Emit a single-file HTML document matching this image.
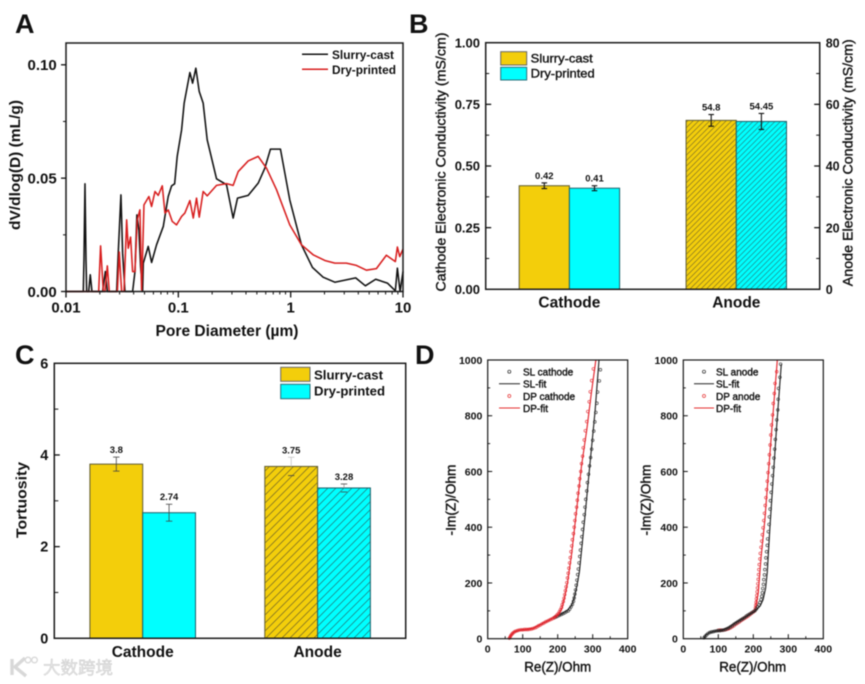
<!DOCTYPE html>
<html lang="en">
<head>
<meta charset="utf-8">
<title>Battery electrode comparison charts</title>
<style>
html,body{margin:0;padding:0;background:#fff;}
#figure{display:block;width:865px;height:684px;filter:blur(0.45px);font-family:"Liberation Sans","Noto Sans CJK SC",sans-serif;}
text{fill:#111;}
.b{font-weight:700;}
.med{stroke:#111;stroke-width:.38px;}
</style>
</head>
<body>
<svg id="figure" xmlns="http://www.w3.org/2000/svg" width="865" height="684" viewBox="0 0 865 684">
<defs>
<pattern id="hatchB" patternUnits="userSpaceOnUse" width="5.5" height="5.5" patternTransform="rotate(0)"><path d="M-1,1 L1,-1 M0,5.5 L5.5,0 M4.5,6.5 L6.5,4.5" stroke="#333" stroke-opacity=".6" stroke-width=".7"/></pattern>
<pattern id="hatchC" patternUnits="userSpaceOnUse" width="8" height="8"><path d="M-1,1 L1,-1 M0,8 L8,0 M7,9 L9,7" stroke="#333" stroke-opacity=".7" stroke-width=".7"/></pattern>
</defs>

<g id="panelA">
<text class="b" x="15" y="33" font-size="27">A</text>
<text class="b" x="227" y="336" font-size="15.5" text-anchor="middle" textLength="143" lengthAdjust="spacingAndGlyphs">Pore Diameter (µm)</text>
<text class="b" transform="translate(20,165) rotate(-90)" font-size="15" text-anchor="middle" textLength="130" lengthAdjust="spacingAndGlyphs">dV/dlog(D) (mL/g)</text>
<line x1="302" x2="328" y1="54.3" y2="54.3" stroke="#111" stroke-width="1.5"/>
<text class="b" x="332" y="59" font-size="11.5" textLength="62" lengthAdjust="spacingAndGlyphs">Slurry-cast</text>
<line x1="302" x2="328" y1="69.3" y2="69.3" stroke="#d81e1e" stroke-width="1.5"/>
<text class="b" x="332" y="74" font-size="11.5" textLength="64" lengthAdjust="spacingAndGlyphs">Dry-printed</text>
</g>

<g id="panelB">
<text class="b" x="409" y="33" font-size="27">B</text>
<text class="med" transform="translate(445.5,162) rotate(-90)" font-size="14" text-anchor="middle" textLength="259" lengthAdjust="spacingAndGlyphs">Cathode Electronic Conductivity (mS/cm)</text>
<text class="med" transform="translate(852.5,162.7) rotate(-90)" font-size="14" text-anchor="middle" textLength="247" lengthAdjust="spacingAndGlyphs">Anode Electronic Conductivity (mS/cm)</text>
<rect x="500.7" y="51.7" width="26" height="13.3" fill="#f3ce0b" stroke="#666" stroke-width="1"/>
<text class="med" x="530.7" y="62.7" font-size="12" textLength="62" lengthAdjust="spacingAndGlyphs">Slurry-cast</text>
<rect x="500.7" y="67.3" width="26" height="12.7" fill="#00ffff" stroke="#2a6f7a" stroke-width="1"/>
<text class="med" x="530.7" y="77.7" font-size="12" textLength="64" lengthAdjust="spacingAndGlyphs">Dry-printed</text>
</g>

<g id="panelC">
<text class="b" x="15" y="364" font-size="27">C</text>
<text class="b" transform="translate(26.5,500) rotate(-90)" font-size="15" text-anchor="middle" textLength="76" lengthAdjust="spacingAndGlyphs">Tortuosity</text>
<rect x="280.7" y="367.3" width="29.3" height="14" fill="#f3ce0b" stroke="#666" stroke-width="1"/>
<text class="b" x="314" y="379.3" font-size="13" textLength="69" lengthAdjust="spacingAndGlyphs">Slurry-cast</text>
<rect x="280.7" y="384.3" width="29.3" height="14.4" fill="#00ffff" stroke="#2a6f7a" stroke-width="1"/>
<text class="b" x="314" y="395.7" font-size="13" textLength="71" lengthAdjust="spacingAndGlyphs">Dry-printed</text>
</g>

<g id="panelD1">
<text class="b" x="415" y="364" font-size="27">D</text>
<text class="med" x="557.7" y="671.5" font-size="13.5" text-anchor="middle" textLength="67" lengthAdjust="spacingAndGlyphs">Re(Z)/Ohm</text>
<text class="med" transform="translate(455.7,500) rotate(-90)" font-size="13.5" text-anchor="middle" textLength="71" lengthAdjust="spacingAndGlyphs">-Im(Z)/Ohm</text>
</g>

<g id="panelD2">
<text class="med" x="752.7" y="671.5" font-size="13.5" text-anchor="middle" textLength="67" lengthAdjust="spacingAndGlyphs">Re(Z)/Ohm</text>
<text class="med" transform="translate(650.7,500) rotate(-90)" font-size="13.5" text-anchor="middle" textLength="71" lengthAdjust="spacingAndGlyphs">-Im(Z)/Ohm</text>
</g>

<g opacity=".9">
<path d="M12,659 V675 M25,658 L15,667 L26,676" fill="none" stroke="#d4d4d4" stroke-width="3.4"/>
<circle cx="28" cy="660" r="2.8" fill="none" stroke="#d4d4d4" stroke-width="1.3"/>
<circle cx="34.5" cy="660" r="2.8" fill="none" stroke="#d4d4d4" stroke-width="1.3"/>
<text x="43" y="674" font-size="17.5" textLength="70" lengthAdjust="spacingAndGlyphs" style="fill:#e2e2e2;stroke:#c4c4c4;stroke-width:.4px;">大数跨境</text>
</g>
</svg>

<script>
/* ---------- Panel A data (log10 of pore diameter in µm, dV/dlog(D) in mL/g) ---------- */
const slurryLogDiameter = [-2,-1.846,-1.84,-1.831,-1.822,-1.816,-1.798,-1.784,-1.769,-1.674,-1.65,-1.632,-1.549,-1.535,-1.511,-1.496,-1.475,-1.407,-1.386,-1.369,-1.351,-1.336,-1.318,-1.312,-1.268,-1.238,-1.194,-1.134,-1.105,-1.09,-1.06,-1.033,-1.01,-.971,-.948,-.897,-.873,-.844,-.814,-.779,-.743,-.66,-.571,-.512,-.473,-.378,-.289,-.23,-.18,-.091,-.008,.096,.194,.289,.393,.579,.665,.757,.861,.932,.95,.974,1];
const slurryPoreVolume = [0,0,.014,.0475,.014,0,0,.0074,0,0,.0088,0,0,.0169,.0426,.0169,0,0,.0088,.0338,.0272,.011,0,.0125,.0199,.0128,.0206,.0287,.0375,.0419,.0466,.0475,.0596,.0713,.0831,.0966,.0919,.0985,.0882,.0831,.0669,.0497,.0471,.0324,.0412,.0424,.0478,.0544,.0628,.0628,.0404,.0206,.0106,.0063,.0041,.006,.0025,.0054,.0037,.0003,.0103,0,.0088];
const dryLogDiameter = [-2,-1.709,-1.692,-1.668,-1.653,-1.632,-1.615,-1.543,-1.526,-1.505,-1.484,-1.46,-1.446,-1.425,-1.407,-1.386,-1.366,-1.342,-1.327,-1.306,-1.262,-1.238,-1.208,-1.179,-1.143,-1.119,-1.09,-1.054,-1.016,-.971,-.942,-.897,-.867,-.838,-.814,-.779,-.743,-.66,-.571,-.512,-.467,-.378,-.289,-.215,-.126,-.008,.096,.2,.304,.393,.496,.585,.674,.763,.852,.932,.95,.971,1];
const dryPoreVolume = [0,0,.0201,0,0,.0113,0,0,.0174,0,0,.0316,.0191,.024,.0088,.0088,.0316,.036,.0007,.0382,.0419,.0375,.0441,.0424,.0466,.0346,.036,.0309,.0294,.0331,.0346,.0401,.0324,.0412,.0328,.0441,.0422,.0468,.0476,.0468,.0529,.0576,.0596,.0544,.0449,.0294,.0206,.0162,.0137,.0125,.0125,.0115,.0094,.0101,.016,.0132,.0196,.0154,.0187];
const aXTicks = [0.01,0.1,1,10];
const aXTickLabels = ['0.01','0.1','1','10'];
const aYTicks = [0,0.05,0.1];
const aYTickLabels = ['0.00','0.05','0.10'];
const aYMinorTicks = [0.025,0.075];
const aDecadeMultiples = [2,3,4,5,6,7,8,9];

/* ---------- Panel B data ---------- */
const bCategories = ['Cathode','Anode'];
const bSlurryValues = [0.42,54.8];
const bDryValues = [0.41,54.45];
const bSlurryErrors = [0.0115,1.9];
const bDryErrors = [0.01,2.6];
const bSlurryLabels = ['0.42','54.8'];
const bDryLabels = ['0.41','54.45'];
const bLeftTicks = [0,0.25,0.5,0.75,1];
const bLeftTickLabels = ['0.00','0.25','0.50','0.75','1.00'];
const bLeftMinorTicks = [0.125,0.375,0.625,0.875];
const bRightTicks = [0,20,40,60,80];
const bRightTickLabels = ['0','20','40','60','80'];
const bRightMinorTicks = [10,30,50,70];

/* ---------- Panel C data ---------- */
const cCategories = ['Cathode','Anode'];
const cSlurryValues = [3.8,3.75];
const cDryValues = [2.74,3.28];
const cSlurryErrors = [0.153,0.2];
const cDryErrors = [0.185,0.087];
const cSlurryLabels = ['3.8','3.75'];
const cDryLabels = ['2.74','3.28'];
const cYTicks = [0,2,4,6];
const cYMinorTicks = [1,3,5];

/* ---------- Panel D data (Re(Z), -Im(Z) in Ohm) ---------- */
const dXTicks = [0,100,200,300,400];
const dXMinorTicks = [50,150,250,350];
const dYTicks = [0,200,400,600,800,1000];
const dYMinorTicks = [100,300,500,700,900];

const slCathodeFitRe = [62,66,75,90,110,130,150,170,190,210,228,240,248,255,262,270,278,287,297,307,318];
const slCathodeFitIm = [0,12,24,31,33,37,50,63,76,88,102,120,150,190,240,340,440,560,690,820,1000];
const dpCathodeFitRe = [62,66,75,90,110,130,150,170,190,202,212,220,228,240,254,268,283,296,309];
const dpCathodeFitIm = [0,12,24,31,33,37,50,63,76,88,110,150,200,306,462,620,749,880,1000];
const slCathodePointsRe = [322,319,314,312,309,306,303,300,297,294,291,288,285,283,280,278,276,273,271,269,267,265,263,261,259,257,255,253,251,249,247,245,242,238,234,230,225,220,215,210,205,200,195,190];
const slCathodePointsIm = [965,925,885,845,812,778,745,712,680,650,620,590,560,530,500,472,445,418,392,366,342,318,295,272,250,230,210,192,175,160,146,134,123,114,106,100,97,93,90,87,84,81,78,75];
const dpCathodePointsRe = [302,297,293,290,286,283,279,276,273,271,268,266,263,261,258,256,254,251,249,247,245,242,240,238,236,234,232,230,228,226,224,222,220,218,216,213,211,208,205,202,198,194,190,185,180,175,170,165,160,155,150,145,140,135,130,125,120,115,110,105,100,95,90,85,80,76,72,69,66,64,62];
const dpCathodePointsIm = [968,926,886,850,815,779,746,713,685,655,628,600,574,548,522,497,472,448,424,400,377,355,333,312,291,272,253,235,218,201,186,172,158,145,133,122,112,104,97,90,85,80,76,72,69,66,63,60,56,53,49,46,42,39,37,35,34,33,33,33,32,32,31,29,27,24,20,16,11,6,2];

const slAnodeFitRe = [58,65,75,90,110,130,150,170,190,205,220,228,235,240,247,266,280];
const slAnodeFitIm = [0,14,22,27,30,40,58,72,88,100,118,140,180,240,390,749,985];
const dpAnodeFitRe = [90,110,130,150,170,190,205,209,214,222,233,252,268.6];
const dpAnodeFitIm = [27,30,40,58,72,88,100,130,163,290,426,737,1000];
const slAnodePointsRe = [278,276,272,271,270,267,265,263,261,259,257,255,253,251,249,248,246,245,243,241,240,238,236,235,233,232,230,229,227,226,224,222,219,216,213,209,205,200,195,190,185,180,175,170,165,160,155,150,145,140,135,130,125,120,115,110,105,100,95,90,85,80,75,70,66,62,59];
const slAnodePointsIm = [985,938,898,859,821,785,750,715,680,648,615,585,555,525,495,465,437,410,384,358,335,312,290,268,248,229,212,195,180,165,152,140,130,121,114,107,101,97,93,89,85,81,76,72,68,64,60,56,52,47,43,39,36,33,31,30,29,29,28,27,25,24,22,18,13,8,3];
const dpAnodePointsRe = [267,262,260,257,255,252,250,248,246,244,242,240,238,236,234,232,230,228,226,224,222,220,219,217,216,215,214,213,212,211,210,209,208,207,206,204,200,195,190,185,180,175,170,165,160,155,150,145,140,135,130,125,120,115,110,105,100];
const dpAnodePointsIm = [958,916,880,844,803,767,731,695,660,628,596,565,535,506,478,450,424,398,373,350,328,306,286,266,248,230,213,197,182,168,155,143,131,120,110,100,96,91,86,81,77,73,69,65,60,56,52,47,43,39,36,34,32,31,31,31,30];

/* ---------- helpers ---------- */
const NS = 'http://www.w3.org/2000/svg';
function mk(tag, parent, props, content) {
  const node = document.createElementNS(NS, tag);
  for (const key in props) node.setAttribute(key, props[key]);
  if (content !== undefined) node.textContent = content;
  parent.appendChild(node);
  return node;
}
function polyline(xs, ys, fx, fy) {
  return xs.map((v, i) => (i ? 'L' : 'M') + fx(v).toFixed(2) + ',' + fy(ys[i]).toFixed(2)).join(' ');
}
function slug(s) { return String(s).toLowerCase().replace(/[^a-z0-9]+/g, '-'); }

/* small mark makers: each names the node on its own lines */
function tick(parent, name, x1, y1, x2, y2, width) {
  const el = mk('line', parent, {x1, y1, x2, y2, stroke:'#111', 'stroke-width':width});
  
  
  return el;
}
function label(parent, name, x, y, text, size, anchor, cls) {
  const el = mk('text', parent, {x, y, 'font-size':size, 'text-anchor':anchor, class:cls || 'b'}, text);
  
  
  return el;
}
function frame(parent, name, x, y, w, h, width) {
  const el = mk('rect', parent, {x, y, width:w, height:h, fill:'none', stroke:'#1a1a1a', 'stroke-width':width});
  
  
  return el;
}

/* ---------- Panel A ---------- */
(function () {
  const g = document.getElementById('panelA');
  const L = 66, R = 403, T = 43, B = 291.5;
  const xA = logD => L + (logD + 2) * (R - L) / 3;
  const yA = v => B - v * 2267;
  const black = mk('path', g, {d:polyline(slurryLogDiameter, slurryPoreVolume, xA, yA), fill:'none', stroke:'#111', 'stroke-width':1.55, 'stroke-linejoin':'round'});
  
  
  const red = mk('path', g, {d:polyline(dryLogDiameter, dryPoreVolume, xA, yA), fill:'none', stroke:'#d81e1e', 'stroke-width':1.55, 'stroke-linejoin':'round'});
  
  
  frame(g, 'a-plot-frame', L, T, R - L, B - T, 1.5);
  aXTicks.forEach((d, i) => {
    const x = xA(Math.log10(d));
    tick(g, 'a-x-tick', x, B, x, B + 6, 1.3);
    label(g, 'a-x-tick-label', x, 312.5, aXTickLabels[i], 15, 'middle');
    if (i < aXTicks.length - 1) aDecadeMultiples.forEach(m => {
      const mx = xA(Math.log10(d * m));
      tick(g, 'a-x-minor-tick', mx, B, mx, B + 3, 1);
    });
  });
  aYTicks.forEach((v, i) => {
    tick(g, 'a-y-tick', L - 5, yA(v), L, yA(v), 1.3);
    label(g, 'a-y-tick-label', 56.7, yA(v) + 5.3, aYTickLabels[i], 15, 'end');
  });
  aYMinorTicks.forEach(v => tick(g, 'a-y-minor-tick', L - 3, yA(v), L, yA(v), 1));
})();

/* ---------- shared bars ---------- */
function drawBar(g, name, x, w, yTop, yBase, fill, stroke) {
  const el = mk('rect', g, {x, y:yTop, width:w, height:yBase - yTop, fill, stroke, 'stroke-width':1});
  
  
  return el;
}
function drawHatch(g, name, x, w, yTop, yBase, pattern) {
  const el = mk('rect', g, {x, y:yTop, width:w, height:yBase - yTop, fill:'url(#' + pattern + ')', stroke:'none'});
  
  
  return el;
}
function drawError(g, name, cx, yHi, yLo, cap, width, upperColor, lowerColor, stemColor, yMid) {
  const up = mk('line', g, {x1:cx, x2:cx, y1:yHi, y2:yMid, stroke:stemColor, 'stroke-width':width});
  
  
  if (lowerColor === stemColor || stemColor === '#111' || stemColor === '#444') {
    const low = mk('line', g, {x1:cx, x2:cx, y1:yMid, y2:yLo, stroke:stemColor, 'stroke-width':width});
    
    
  }
  const top = mk('line', g, {x1:cx - cap, x2:cx + cap, y1:yHi, y2:yHi, stroke:upperColor, 'stroke-width':width});
  
  
  const bottom = mk('line', g, {x1:cx - cap, x2:cx + cap, y1:yLo, y2:yLo, stroke:lowerColor, 'stroke-width':width});
  
  
}

/* ---------- Panel B ---------- */
(function () {
  const g = document.getElementById('panelB');
  const L = 485.7, R = 819.7, T = 42.7, B = 289.3, H = B - T;
  const yLeft = v => B - v * H;
  const yRight = v => B - v * H / 80;
  const center = i => 569.4 + 166.9 * i;
  const W = 50.2;
  bCategories.forEach((cat, i) => {
    const y = i === 0 ? yLeft : yRight;
    const key = slug(cat);
    const c = center(i);
    drawBar(g, 'bar-' + key + '-slurry-cast', c - W, W, y(bSlurryValues[i]), B, '#f3ce0b', '#5e5a30');
    drawBar(g, 'bar-' + key + '-dry-printed', c, W, y(bDryValues[i]), B, '#00ffff', '#1d5f6a');
    if (i === 1) {
      drawHatch(g, 'hatch-' + key + '-slurry-cast', c - W + .5, W - 1, y(bSlurryValues[i]) + .5, B - .5, 'hatchB');
      drawHatch(g, 'hatch-' + key + '-dry-printed', c + .5, W - 1, y(bDryValues[i]) + .5, B - .5, 'hatchB');
    }
    const cs = c - W / 2, cd = c + W / 2;
    drawError(g, 'error-' + key + '-slurry-cast', cs, y(bSlurryValues[i] + bSlurryErrors[i]), y(bSlurryValues[i] - bSlurryErrors[i]), 2.8, 1.1, '#111', '#111', '#111', y(bSlurryValues[i]));
    drawError(g, 'error-' + key + '-dry-printed', cd, y(bDryValues[i] + bDryErrors[i]), y(bDryValues[i] - bDryErrors[i]), 2.8, 1.1, '#111', '#111', '#111', y(bDryValues[i]));
    label(g, 'value-' + key + '-slurry-cast', cs, y(bSlurryValues[i] + bSlurryErrors[i]) - 4, bSlurryLabels[i], 9.5, 'middle');
    label(g, 'value-' + key + '-dry-printed', cd, y(bDryValues[i] + bDryErrors[i]) - 4, bDryLabels[i], 9.5, 'middle');
    label(g, 'b-category-' + key, c, 307.5, cat, 15.5, 'middle');
  });
  frame(g, 'b-plot-frame', L, T, R - L, B - T, 1.5);
  bLeftTicks.forEach((v, i) => {
    if (i > 0 && i < bLeftTicks.length - 1) tick(g, 'b-left-tick', L, yLeft(v), L + 5.5, yLeft(v), 1.3);
    label(g, 'b-left-tick-label', 480, yLeft(v) + 4.7, bLeftTickLabels[i], 13, 'end');
  });
  bLeftMinorTicks.forEach(v => tick(g, 'b-left-minor-tick', L, yLeft(v), L + 3.5, yLeft(v), 1));
  bRightTicks.forEach((v, i) => {
    if (i > 0 && i < bRightTicks.length - 1) tick(g, 'b-right-tick', R - 5.5, yRight(v), R, yRight(v), 1.3);
    label(g, 'b-right-tick-label', 825.7, yRight(v) + 4.7, bRightTickLabels[i], 12.5, 'start');
  });
  bRightMinorTicks.forEach(v => tick(g, 'b-right-minor-tick', R - 3.5, yRight(v), R, yRight(v), 1));
})();

/* ---------- Panel C ---------- */
(function () {
  const g = document.getElementById('panelC');
  const L = 54.3, R = 405.7, T = 363.3, B = 638.3;
  const y = v => B - v * (B - T) / 6;
  const center = i => 142.7 + 174.9 * i;
  const W = 52.8;
  cCategories.forEach((cat, i) => {
    const key = slug(cat);
    const c = center(i);
    drawBar(g, 'bar-' + key + '-slurry-cast', c - W, W, y(cSlurryValues[i]), B, '#f3ce0b', '#5e5a30');
    drawBar(g, 'bar-' + key + '-dry-printed', c, W, y(cDryValues[i]), B, '#00ffff', '#1d5f6a');
    if (i === 1) {
      drawHatch(g, 'hatch-' + key + '-slurry-cast', c - W + .5, W - 1, y(cSlurryValues[i]) + .5, B - .5, 'hatchC');
      drawHatch(g, 'hatch-' + key + '-dry-printed', c + .5, W - 1, y(cDryValues[i]) + .5, B - .5, 'hatchC');
    }
    const cs = c - W / 2, cd = c + W / 2;
    const anode = i === 1;
    drawError(g, 'error-' + key + '-slurry-cast', cs, y(cSlurryValues[i] + cSlurryErrors[i]), y(cSlurryValues[i] - cSlurryErrors[i]), 3.2, .8, anode ? '#c4c4c4' : '#444', '#444', anode ? '#c4c4c4' : '#444', y(cSlurryValues[i]));
    drawError(g, 'error-' + key + '-dry-printed', cd, y(cDryValues[i] + cDryErrors[i]), y(cDryValues[i] - cDryErrors[i]), 3.2, .8, '#444', '#444', anode ? '#999' : '#444', y(cDryValues[i]));
    label(g, 'value-' + key + '-slurry-cast', cs, y(cSlurryValues[i] + cSlurryErrors[i]) - 4, cSlurryLabels[i], 9.5, 'middle');
    label(g, 'value-' + key + '-dry-printed', cd, y(cDryValues[i] + cDryErrors[i]) - 4, cDryLabels[i], 9.5, 'middle');
    label(g, 'c-category-' + key, c, 657, cat, 15.5, 'middle');
  });
  frame(g, 'c-plot-frame', L, T, R - L, B - T, 1.5);
  cYTicks.forEach(v => {
    if (v > 0 && v < 6) tick(g, 'c-y-tick', L, y(v), L + 5.5, y(v), 1.3);
    label(g, 'c-y-tick-label', 48.3, y(v) + 5, String(v), 14.5, 'end');
  });
  cYMinorTicks.forEach(v => tick(g, 'c-y-minor-tick', L, y(v), L + 4, y(v), 1));
})();

/* ---------- Panel D ---------- */
function nyquist(cfg) {
  const g = document.getElementById(cfg.id);
  const L = cfg.left, R = cfg.left + 140, T = 360, B = 638.7;
  const xD = v => L + v * (R - L) / 400;
  const yD = v => B - v * (B - T) / 1000;
  function series(key, color, fitRe, fitIm, ptRe, ptIm) {
    ptRe.forEach((re, i) => {
      const m = mk('circle', g, {cx:xD(re).toFixed(2), cy:yD(ptIm[i]).toFixed(2), r:1.35, fill:'none', stroke:color, 'stroke-width':.7, 'stroke-opacity':.85});
      
      
    });
    const ln = mk('path', g, {d:polyline(fitRe, fitIm, xD, yD), fill:'none', stroke:color, 'stroke-width':1.15, 'stroke-linejoin':'round'});
    
    
  }
  cfg.order.forEach(s => series(s.key, s.color, s.fitRe, s.fitIm, s.ptRe, s.ptIm));
  frame(g, cfg.key + '-plot-frame', L, T, R - L, B - T, 1.2);
  dXTicks.forEach(v => {
    if (v > 0 && v < 400) tick(g, cfg.key + '-x-tick', xD(v), B - 4.5, xD(v), B, 1);
    label(g, cfg.key + '-x-tick-label', xD(v), 652.7, String(v), 10.5, 'middle');
  });
  dXMinorTicks.forEach(v => tick(g, cfg.key + '-x-minor-tick', xD(v), B - 2.5, xD(v), B, .9));
  dYTicks.forEach(v => {
    if (v > 0 && v < 1000) tick(g, cfg.key + '-y-tick', L, yD(v), L + 4.5, yD(v), 1);
    label(g, cfg.key + '-y-tick-label', L - 5.4, yD(v) + 3.8, String(v), 10.5, 'end');
  });
  dXMinorTicks.length;
  dYMinorTicks.forEach(v => tick(g, cfg.key + '-y-minor-tick', L, yD(v), L + 2.5, yD(v), .9));

  /* legend */
  const mx = L + cfg.legendMarkerOffset, lx1 = L + cfg.legendLineStart, lx2 = L + cfg.legendLineEnd, tx = L + cfg.legendTextOffset;
  const m1 = mk('circle', g, {cx:mx, cy:371.7, r:1.5, fill:'none', stroke:'#222', 'stroke-width':.7});
  
  
  const t1 = label(g, cfg.key + '-legend-label-sl', tx, 375.7, cfg.slName, 10, 'start', 'med');
  const l1 = mk('line', g, {x1:lx1, x2:lx2, y1:383.7, y2:383.7, stroke:'#222', 'stroke-width':1});
  
  
  label(g, cfg.key + '-legend-label-sl-fit', tx, 387.5, 'SL-fit', 10, 'start', 'med');
  const m2 = mk('circle', g, {cx:mx, cy:396, r:1.5, fill:'none', stroke:'#e53030', 'stroke-width':.7});
  
  
  label(g, cfg.key + '-legend-label-dp', tx, 400.2, cfg.dpName, 10, 'start', 'med');
  const l2 = mk('line', g, {x1:lx1, x2:lx2, y1:408, y2:408, stroke:'#e53030', 'stroke-width':1});
  
  
  label(g, cfg.key + '-legend-label-dp-fit', tx, 412, 'DP-fit', 10, 'start', 'med');
}
const slCathodeSeries = {key:'sl', color:'#222', fitRe:slCathodeFitRe, fitIm:slCathodeFitIm, ptRe:slCathodePointsRe, ptIm:slCathodePointsIm};
const dpCathodeSeries = {key:'dp', color:'#e3232b', fitRe:dpCathodeFitRe, fitIm:dpCathodeFitIm, ptRe:dpCathodePointsRe, ptIm:dpCathodePointsIm};
const slAnodeSeries = {key:'sl', color:'#222', fitRe:slAnodeFitRe, fitIm:slAnodeFitIm, ptRe:slAnodePointsRe, ptIm:slAnodePointsIm};
const dpAnodeSeries = {key:'dp', color:'#e3232b', fitRe:dpAnodeFitRe, fitIm:dpAnodeFitIm, ptRe:dpAnodePointsRe, ptIm:dpAnodePointsIm};
nyquist({id:'panelD1', key:'d-cathode', left:487.7, order:[slCathodeSeries, dpCathodeSeries], slName:'SL cathode', dpName:'DP cathode', legendMarkerOffset:21.6, legendLineStart:11.3, legendLineEnd:32.3, legendTextOffset:35.3});
nyquist({id:'panelD2', key:'d-anode', left:683.3, order:[dpAnodeSeries, slAnodeSeries], slName:'SL anode', dpName:'DP anode', legendMarkerOffset:20.7, legendLineStart:10.7, legendLineEnd:30.7, legendTextOffset:32.7});
</script>
</body>
</html>
